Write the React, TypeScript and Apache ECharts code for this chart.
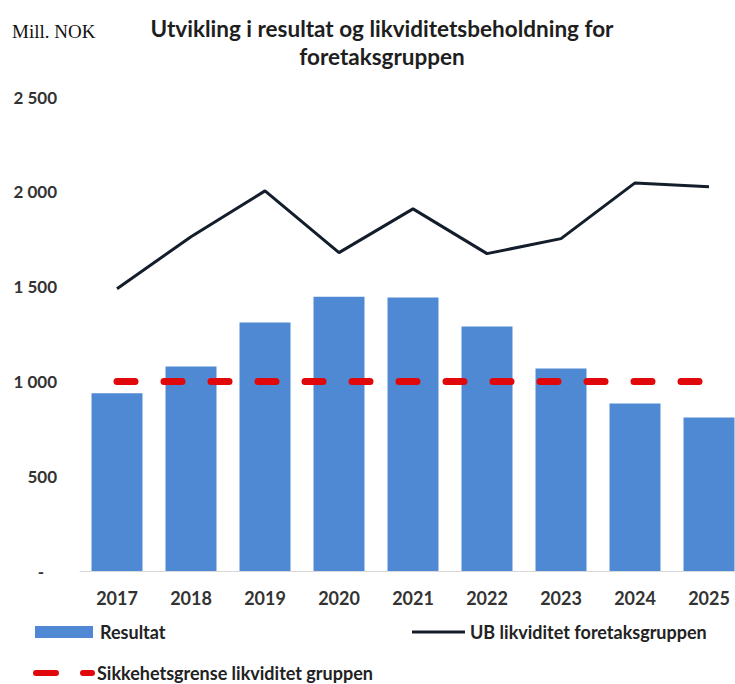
import React, { useEffect, useRef } from "react";
import * as echarts from "echarts";

const years = ["2017", "2018", "2019", "2020", "2021", "2022", "2023", "2024", "2025"];
const resultat = [937, 1079, 1310, 1447, 1442, 1289, 1068, 884, 810];
const ubLikviditet = [1489, 1763, 2005, 1679, 1910, 1674, 1753, 2047, 2026];
const sikkerhetsgrense = [1000, 1000, 1000, 1000, 1000, 1000, 1000, 1000, 1000];

const FONT = "Lato, 'Open Sans', sans-serif";
const DASH_ICON =
  "path://M3,0 H23 A3,3 0 0 1 23,6 H3 A3,3 0 0 1 3,0 Z M50,0 H59 A3,3 0 0 1 59,6 H50 A3,3 0 0 1 50,0 Z M0,0 H0.01 V0.01 Z M62,6 H61.99 V5.99 Z";

export default function App() {
  const ref = useRef<HTMLDivElement>(null);
  useEffect(() => {
    if (!ref.current) return;
    const chart = echarts.init(ref.current, undefined, { renderer: "svg" });
    const fmt = (v: number) => {
      if (v === 0) return "{d|-}";
      const s = String(v);
      return s.length > 3 ? s.slice(0, s.length - 3) + " " + s.slice(-3) : s;
    };
    const legendText = { fontFamily: FONT, fontWeight: "bold", fontSize: 18, color: "#222" };
    chart.setOption({
      animation: false,
      backgroundColor: "#ffffff",
      title: {
        text: "Utvikling i resultat og likviditetsbeholdning for\nforetaksgruppen",
        left: 377,
        textAlign: "center",
        top: 9,
        textStyle: { fontFamily: FONT, fontWeight: "bold", fontSize: 22.5, color: "#1e1e1e", lineHeight: 28 },
      },
      graphic: [
        {
          type: "text",
          left: 12,
          top: 22,
          style: { text: "Mill. NOK", font: "19px 'Liberation Serif', serif", fill: "#111" },
        },
      ],
      grid: { left: 80, top: 97, width: 666, height: 474, containLabel: false, outerBoundsMode: "none" },
      xAxis: {
        type: "category",
        data: years,
        axisLine: { show: true, lineStyle: { color: "#d9d9d9", width: 1 } },
        axisTick: { show: false },
        axisLabel: { fontFamily: FONT, fontWeight: "bold", fontSize: 18, color: "#333", margin: 18 },
      },
      yAxis: {
        type: "value",
        min: 0,
        max: 2500,
        interval: 500,
        splitLine: { show: false },
        axisLine: { show: false },
        axisTick: { show: false },
        axisLabel: {
          formatter: fmt,
          fontFamily: FONT,
          fontWeight: "bold",
          fontSize: 17,
          color: "#333",
          margin: 23,
          rich: { d: { padding: [0, 13, 0, 0], fontFamily: FONT, fontWeight: "bold", fontSize: 17, color: "#333" } },
        },
      },
      legend: [
        {
          data: [{ name: "Resultat", icon: "rect" }],
          left: 35,
          top: 623,
          padding: 0,
          itemWidth: 58,
          itemHeight: 12,
          textStyle: { ...legendText, padding: [0, 0, 0, 2] },
        },
        {
          data: [{ name: "UB likviditet foretaksgruppen", icon: "rect" }],
          left: 412,
          top: 623,
          padding: 0,
          itemWidth: 53,
          itemHeight: 3,
          textStyle: { ...legendText, padding: [0, 0, 0, 0] },
        },
        {
          data: [{ name: "Sikkehetsgrense likviditet gruppen", icon: DASH_ICON }],
          left: 33,
          top: 664,
          padding: 0,
          itemWidth: 62,
          itemHeight: 7,
          textStyle: { ...legendText, padding: [0, 0, 0, -3] },
        },
      ],
      series: [
        {
          name: "Resultat",
          type: "bar",
          data: resultat,
          barWidth: 51,
          itemStyle: { color: "#5089d3" },
        },
        {
          name: "UB likviditet foretaksgruppen",
          type: "line",
          data: ubLikviditet,
          symbol: "none",
          lineStyle: { color: "#141d2b", width: 3 },
          itemStyle: { color: "#141d2b" },
        },
        {
          name: "Sikkehetsgrense likviditet gruppen",
          type: "line",
          data: sikkerhetsgrense,
          symbol: "none",
          lineStyle: { color: "#e0080b", width: 7, type: [18, 29], cap: "round" },
          itemStyle: { color: "#e0080b" },
        },
      ],
    });
    return () => chart.dispose();
  }, []);
  return (
    <div
      ref={ref}
      style={{ position: "absolute", left: 0, top: 0, width: 735, height: 684 }}
    />
  );
}
